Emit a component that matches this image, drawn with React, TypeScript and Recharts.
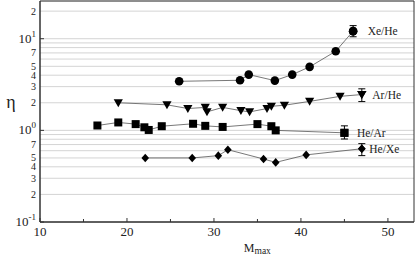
import { ScatterChart, Scatter, XAxis, YAxis, CartesianGrid, ErrorBar, LabelList, ReferenceArea, Label } from "recharts"

const serif = "'Liberation Serif', 'DejaVu Serif', serif"

// M_max values and eta for each gas pair
const xeHeM = [26, 33, 34, 37, 39, 41, 44, 46]
const xeHeEta = [3.43, 3.52, 4.06, 3.49, 4.06, 4.93, 7.3, 12.1]
const xeHeErr = [1.6, 1.8]

const arHeM = [19, 24.6, 27, 29, 29.2, 31, 33.1, 34.1, 36.1, 36.6, 38.1, 41, 44.5, 47]
const arHeEta = [2.0, 1.9, 1.73, 1.78, 1.59, 1.78, 1.64, 1.59, 1.73, 1.83, 1.88, 2.07, 2.35, 2.46]
const arHeErr = [0.4, 0.38]

const heArM = [16.6, 19, 21, 22, 22.5, 24, 27.6, 29, 31, 35, 36.6, 37.1, 45]
const heArEta = [1.13, 1.22, 1.17, 1.08, 1.01, 1.11, 1.18, 1.12, 1.09, 1.17, 1.11, 1.0, 0.94]
const heArErr = [0.135, 0.18]

const heXeM = [22.1, 27.5, 30.5, 31.6, 35.7, 37.1, 40.6, 47]
const heXeEta = [0.5, 0.5, 0.53, 0.615, 0.487, 0.447, 0.54, 0.63]
const heXeErr = [0.1, 0.086]

const xTicks = [10, 15, 20, 25, 30, 35, 40, 45, 50]
const yTicks = [
  0.1, 0.2, 0.3, 0.4, 0.5, 0.6, 0.7, 0.8, 0.9,
  1, 2, 3, 4, 5, 6, 7, 8, 9,
  10, 20,
]
const labeledMinor = [2, 3, 4, 5, 7]
const xDomain = [10, 53]
const yDomain = [0.1, 25.8]

const build = (m: number[], eta: number[]) => m.map((v, i) => ({ m: v, eta: eta[i] }))
const lastPoint = (m: number[], eta: number[], err: number[], name: string) => [
  { m: m[m.length - 1], eta: eta[eta.length - 1], err, name },
]

const dot = (p: any) => <circle cx={p.cx} cy={p.cy} r={4.3} fill="#000" />
const square = (p: any) => <rect x={p.cx - 4} y={p.cy - 4} width={8} height={8} fill="#000" />
const triDown = (p: any) => (
  <polygon points={`${p.cx - 4.6},${p.cy - 3.6} ${p.cx + 4.6},${p.cy - 3.6} ${p.cx},${p.cy + 4.4}`} fill="#000" />
)
const diamond = (p: any) => (
  <polygon points={`${p.cx},${p.cy - 4.3} ${p.cx + 3.8},${p.cy} ${p.cx},${p.cy + 4.3} ${p.cx - 3.8},${p.cy}`} fill="#000" />
)

function YTick({ x, y, payload }: any) {
  const v = payload.value
  const lg = Math.log10(v)
  const exp = Math.round(lg)
  if (Math.abs(lg - exp) < 1e-6) {
    return (
      <g>
        <line x1={x} x2={x + 4} y1={y} y2={y} stroke="#333" />
        <text x={x - 4} y={y + 4} textAnchor="end" fontFamily={serif} fontSize={13} fill="#222">
          10<tspan dy={-6} fontSize={9}>{exp}</tspan>
        </text>
      </g>
    )
  }
  const lead = Math.round(v / Math.pow(10, Math.floor(lg + 1e-9)))
  if (!labeledMinor.includes(lead)) return null
  return (
    <text x={x - 4} y={y + 3.5} textAnchor="end" fontFamily={serif} fontSize={10} fill="#222">
      {lead}
    </text>
  )
}

function XTick({ x, y, payload }: any) {
  const major = payload.value % 10 === 0
  return (
    <g>
      <line x1={x} x2={x} y1={y} y2={y - (major ? 4 : 3)} stroke="#333" />
      {major && (
        <text x={x} y={y + 14} textAnchor="middle" fontFamily={serif} fontSize={13} fill="#222">
          {payload.value}
        </text>
      )}
    </g>
  )
}

const series = [
  { name: "Xe/He", m: xeHeM, eta: xeHeEta, err: xeHeErr, shape: dot, offset: 10 },
  { name: "Ar/He", m: arHeM, eta: arHeEta, err: arHeErr, shape: triDown, offset: 6 },
  { name: "He/Ar", m: heArM, eta: heArEta, err: heArErr, shape: square, offset: 8 },
  { name: "He/Xe", m: heXeM, eta: heXeEta, err: heXeErr, shape: diamond, offset: 3 },
]

export default function App() {
  return (
    <div style={{ position: "absolute", left: 0, top: 0 }}>
      <ScatterChart width={415} height={259} margin={{ top: 1, right: 1, left: 0, bottom: 0 }}>
        <CartesianGrid vertical={false} stroke="#d4d4d4" strokeWidth={1} />
        <XAxis
          type="number"
          dataKey="m"
          domain={xDomain}
          ticks={xTicks}
          interval={0}
          height={37}
          tickSize={0}
          tickMargin={0}
          tickLine={false}
          tick={<XTick />}
          stroke="#333"
          allowDataOverflow
        >
          <Label
            content={({ viewBox }: any) => (
              <text x={viewBox.x + viewBox.width * 0.545} y={viewBox.y + 30} fontFamily={serif} fontSize={12} fill="#222">
                M<tspan dy={2} fontSize={9.5}>max</tspan>
              </text>
            )}
          />
        </XAxis>
        <YAxis
          type="number"
          dataKey="eta"
          scale="log"
          domain={yDomain}
          ticks={yTicks}
          interval={0}
          width={40}
          tickSize={0}
          tickMargin={0}
          tickLine={false}
          tick={<YTick />}
          stroke="#333"
          allowDataOverflow
        >
          <Label
            content={({ viewBox }: any) => (
              <text x={viewBox.x + 11} y={viewBox.y + 107} textAnchor="middle" fontFamily={serif} fontSize={18} fill="#222">
                η
              </text>
            )}
          />
        </YAxis>
        <ReferenceArea x1={xDomain[0]} x2={xDomain[1]} y1={yDomain[0]} y2={yDomain[1]} fill="none" stroke="#333" strokeWidth={1} ifOverflow="visible" />
        {series.map((s) => (
          <Scatter
            key={s.name}
            data={build(s.m, s.eta)}
            shape={s.shape}
            line={{ stroke: "#555", strokeWidth: 0.8 }}
            lineType="joint"
            isAnimationActive={false}
          />
        ))}
        {series.map((s) => (
          <Scatter
            key={s.name + "-err"}
            data={lastPoint(s.m, s.eta, s.err, s.name)}
            shape={s.shape}
            isAnimationActive={false}
          >
            <ErrorBar dataKey="err" direction="y" width={3.5} stroke="#000" strokeWidth={1} />
            <LabelList dataKey="name" position="right" offset={s.offset} fontFamily={serif} fontSize={11.5} fill="#222" />
          </Scatter>
        ))}
      </ScatterChart>
    </div>
  )
}
